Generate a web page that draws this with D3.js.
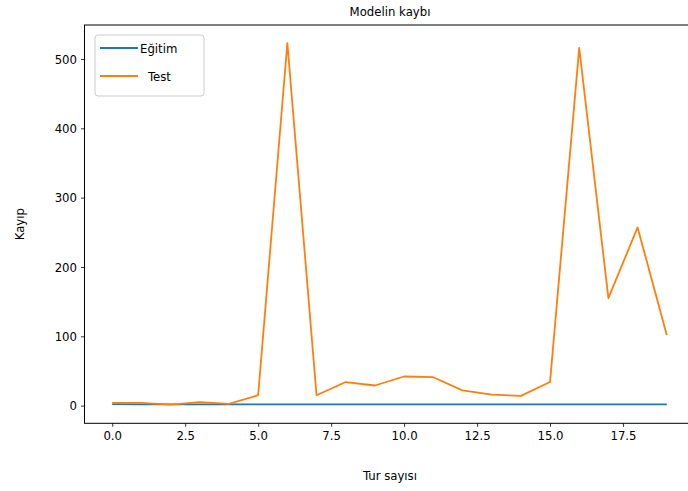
<!DOCTYPE html>
<html>
<head>
<meta charset="utf-8">
<script src="https://cdn.jsdelivr.net/npm/d3@7"></script>
<style>
  body { margin: 0; background: #fff; }
  svg text { font-family: "DejaVu Sans Condensed", "DejaVu Sans", sans-serif; fill: #000; }
</style>
</head>
<body>
<svg width="688" height="491"></svg>
<script>
// epochs and loss values
var epochs = d3.range(0, 20);
var trainLoss = [2.2, 1.9, 1.8, 1.8, 1.7, 1.7, 1.7, 1.7, 1.7, 1.7, 1.7, 1.7, 1.7, 1.7, 1.7, 1.7, 1.7, 1.7, 1.7, 1.7];
var testLoss = [4, 4, 1.5, 5, 2.5, 15, 523, 15, 34, 29, 42, 41, 22, 16, 14, 34, 516, 155, 257, 102];
var xTicks = [0, 2.5, 5, 7.5, 10, 12.5, 15, 17.5];
var yTicks = [0, 100, 200, 300, 400, 500];
var seriesNames = ["Eğitim", "Test"];
var seriesColors = ["#1f77b4", "#ff7f0e"];

var svg = d3.select("svg");

// plot box (right edge runs past the window, as in the original)
var plotL = 84.5, plotR = 694.5, plotT = 25, plotB = 423.3;

var x = d3.scaleLinear().domain([-0.95, 19.95]).range([plotL, plotR]);
var y = d3.scaleLinear().domain([-25.5, 549]).range([plotB, plotT]);

// lines
var line = d3.line()
  .x(function(d, i) { return x(epochs[i]); })
  .y(function(d) { return y(d); });

[trainLoss, testLoss].forEach(function(s, k) {
  svg.append("path")
    .datum(s)
    .attr("fill", "none")
    .attr("stroke", seriesColors[k])
    .attr("stroke-width", 1.8)
    .attr("stroke-linejoin", "round")
    .attr("d", line);
});

// axes
var xAxis = d3.axisBottom(x).tickValues(xTicks).tickFormat(d3.format(".1f")).tickSize(3.5).tickPadding(4);
var yAxis = d3.axisLeft(y).tickValues(yTicks).tickFormat(d3.format("d")).tickSize(3.5).tickPadding(4);

var gx = svg.append("g").attr("transform", "translate(0," + plotB + ")").call(xAxis);
var gy = svg.append("g").attr("transform", "translate(" + plotL + ",0)").call(yAxis);
[gx, gy].forEach(function(g) {
  g.select(".domain").remove();
  g.selectAll(".tick line").attr("stroke", "#000").attr("stroke-width", 0.8);
  g.selectAll(".tick text").style("font-size", "13px").attr("fill", "#222");
});

// spines
svg.append("rect")
  .attr("x", plotL).attr("y", plotT)
  .attr("width", plotR - plotL).attr("height", plotB - plotT)
  .attr("fill", "none").attr("stroke", "#000").attr("stroke-width", 1);

// title and axis labels
svg.append("text").attr("x", 390).attr("y", 16).attr("text-anchor", "middle")
  .style("font-size", "13px").text("Modelin kaybı");
svg.append("text").attr("x", 390).attr("y", 480).attr("text-anchor", "middle")
  .style("font-size", "13px").text("Tur sayısı");
svg.append("text").attr("transform", "translate(24," + ((plotT + plotB) / 2) + ") rotate(-90)")
  .attr("text-anchor", "middle").style("font-size", "13px").text("Kayıp");

// legend
var lg = svg.append("g").attr("transform", "translate(95,35)");
lg.append("rect").attr("width", 109).attr("height", 61).attr("rx", 3)
  .attr("fill", "#fff").attr("fill-opacity", 0.8)
  .attr("stroke", "#ccc").attr("stroke-width", 1);
seriesNames.forEach(function(name, k) {
  var yy = 13 + k * 28;
  lg.append("line").attr("x1", 5).attr("x2", 43).attr("y1", yy).attr("y2", yy)
    .attr("stroke", seriesColors[k]).attr("stroke-width", 2);
  lg.append("text").attr("x", k == 0 ? 45 : 53).attr("y", yy + 4.5)
    .style("font-size", "13px").text(name);
});
</script>
</body>
</html>
